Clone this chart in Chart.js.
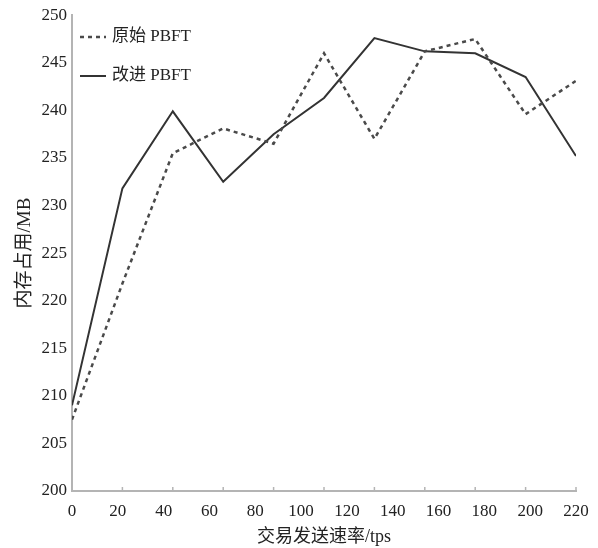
<!DOCTYPE html>
<html>
<head>
<meta charset="utf-8">
<script src="https://cdn.jsdelivr.net/npm/chart.js@4"></script>
<style>
  html, body { margin: 0; padding: 0; background: #fff; }
  #wrap { width: 598px; height: 548px; }
</style>
</head>
<body>
<div id="wrap"><canvas id="memChart"></canvas></div>
<script>
// x positions of the points on the 0-220 axis (the original figure spreads 11 points over the full axis)
const xValues = [0, 22, 44, 66, 88, 110, 132, 154, 176, 198, 220];
const originalPbft = [207.5, 221.8, 235.5, 238.1, 236.5, 246.0, 237.0, 246.2, 247.5, 239.6, 243.1];
const improvedPbft = [209.0, 231.8, 239.9, 232.5, 237.5, 241.3, 247.6, 246.2, 246.0, 243.5, 235.2];
const seriesNames = ['原始 PBFT', '改进 PBFT'];

const FONT = "'Liberation Serif', 'Noto Sans CJK SC', serif";
const AXIS_COLOR = '#b4b4b4';

const toPoints = vals => vals.map((v, i) => ({ x: xValues[i], y: v }));

// legend drawn inside the plot, top-left, two rows
const innerLegend = {
  id: 'innerLegend',
  afterDraw(chart) {
    const c = chart.ctx;
    const left = chart.chartArea.left + 8;
    c.save();
    chart.data.datasets.forEach((ds, i) => {
      const y = 37 + i * 39;
      c.beginPath();
      c.setLineDash(ds.borderDash || []);
      c.lineWidth = ds.borderWidth;
      c.strokeStyle = ds.borderColor;
      c.moveTo(left, y);
      c.lineTo(left + 26, y);
      c.stroke();
      c.setLineDash([]);
      c.fillStyle = '#222';
      c.font = '17px ' + FONT;
      c.textBaseline = 'middle';
      c.fillText(ds.label, left + 32, y);
    });
    c.restore();
  }
};

// small inward tick marks at the data positions on the x axis
const innerTicks = {
  id: 'innerTicks',
  afterDraw(chart) {
    const c = chart.ctx;
    const xs = chart.scales.x;
    const bottom = chart.chartArea.bottom;
    c.save();
    c.strokeStyle = AXIS_COLOR;
    c.lineWidth = 1.5;
    xValues.forEach(v => {
      const px = xs.getPixelForValue(v);
      c.beginPath();
      c.moveTo(px, bottom);
      c.lineTo(px, bottom - 4);
      c.stroke();
    });
    c.restore();
  }
};

new Chart(document.getElementById('memChart'), {
  type: 'line',
  data: {
    datasets: [
      {
        label: seriesNames[0],
        data: toPoints(originalPbft),
        borderColor: '#4a4a4a',
        borderWidth: 2.5,
        borderDash: [4, 4],
        pointRadius: 0,
        tension: 0,
        fill: false
      },
      {
        label: seriesNames[1],
        data: toPoints(improvedPbft),
        borderColor: '#333',
        borderWidth: 2,
        pointRadius: 0,
        tension: 0,
        fill: false
      }
    ]
  },
  options: {
    responsive: true,
    maintainAspectRatio: false,
    animation: false,
    layout: { padding: { top: 15, right: 22, left: 0, bottom: 0 } },
    plugins: {
      legend: { display: false },
      tooltip: { enabled: false }
    },
    scales: {
      x: {
        type: 'linear',
        min: 0,
        max: 220,
        ticks: {
          stepSize: 20,
          color: '#222',
          font: { family: FONT, size: 17 },
          padding: 2
        },
        grid: { display: false },
        border: { color: AXIS_COLOR, width: 2 },
        title: {
          display: true,
          text: '交易发送速率/tps',
          color: '#222',
          font: { family: FONT, size: 18 },
          padding: { top: 0, bottom: 0 }
        },
        afterFit(scale) { scale.height = 57; }
      },
      y: {
        min: 200,
        max: 250,
        ticks: {
          stepSize: 5,
          color: '#222',
          font: { family: FONT, size: 17 },
          padding: 5
        },
        grid: { display: false, drawTicks: false, tickLength: 0 },
        border: { color: AXIS_COLOR, width: 2 },
        title: {
          display: true,
          text: '内存占用/MB',
          color: '#222',
          font: { family: FONT, size: 19 },
          padding: { top: 14, bottom: 0 }
        },
        afterFit(scale) { scale.width = 72; }
      }
    }
  },
  plugins: [innerLegend, innerTicks]
});
</script>
</body>
</html>
